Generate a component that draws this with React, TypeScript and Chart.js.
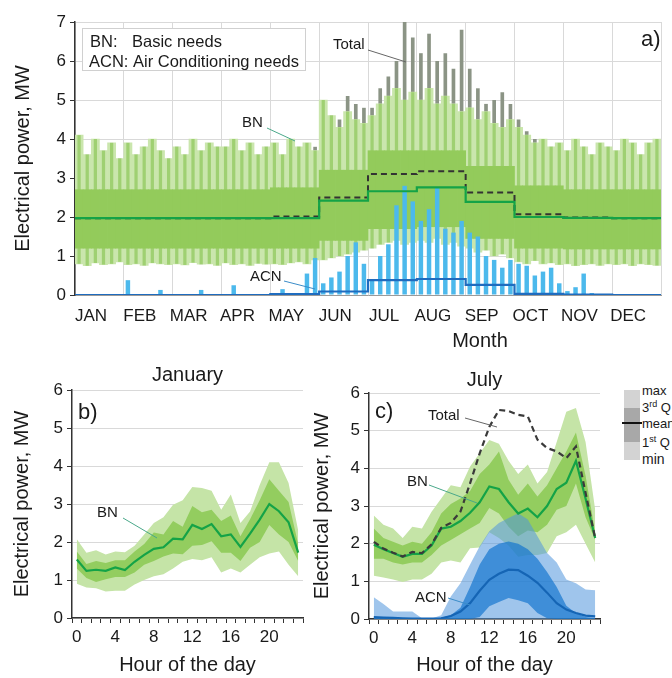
import React, { useEffect, useRef } from 'react';
import { Chart, registerables } from 'chart.js';

Chart.register(...registerables);

const FONT = "'Liberation Sans', Arial, Helvetica, sans-serif";
Chart.defaults.font.family = FONT;
Chart.defaults.color = '#222';

// ---------- Panel a) : yearly profile ----------
const MONTHS = ['JAN', 'FEB', 'MAR', 'APR', 'MAY', 'JUN', 'JUL', 'AUG', 'SEP', 'OCT', 'NOV', 'DEC'];

const BN_MONTHLY_MEAN = [1.97, 1.97, 1.97, 1.97, 1.97, 2.42, 2.66, 2.76, 2.39, 2.0, 1.98, 1.97];
const TOTAL_MONTHLY_MEAN = [1.97, 1.97, 1.97, 1.97, 2.01, 2.5, 3.1, 3.17, 2.63, 2.07, 1.99, 1.97];
const ACN_MONTHLY_MEAN = [0, 0, 0, 0, 0.02, 0.09, 0.38, 0.41, 0.26, 0.03, 0.01, 0];

// dense core of the hourly BN signal, per month
const BN_CORE_LOW = [1.2, 1.2, 1.2, 1.2, 1.2, 1.4, 1.7, 1.75, 1.45, 1.2, 1.18, 1.18];
const BN_CORE_HIGH = [2.7, 2.7, 2.7, 2.7, 2.75, 3.2, 3.7, 3.7, 3.3, 2.8, 2.7, 2.7];

// ~5-day period extremes (6 periods per month)
const BN_PERIOD_MAX = [
  4.1, 3.6, 4.0, 3.7, 3.9, 3.5,
  3.9, 3.6, 3.8, 4.0, 3.7, 3.5,
  3.8, 3.6, 4.0, 3.7, 3.9, 3.8,
  3.8, 4.0, 3.7, 3.9, 3.6, 3.8,
  3.9, 3.6, 4.0, 3.8, 3.9, 3.7,
  5.0, 4.6, 4.3, 4.7, 4.5, 4.4,
  4.6, 4.9, 5.1, 5.3, 5.0, 5.2,
  5.0, 5.3, 4.9, 5.1, 4.9, 4.7,
  4.8, 4.5, 4.7, 4.4, 4.3, 4.5,
  4.3, 4.1, 3.9, 4.0, 3.8, 3.9,
  3.7, 4.0, 3.8, 3.6, 3.9, 3.8,
  3.7, 4.0, 3.9, 3.6, 3.9, 4.0,
];
const BN_PERIOD_MIN = [
  0.8, 0.75, 0.82, 0.78, 0.8, 0.85,
  0.78, 0.8, 0.76, 0.82, 0.8, 0.78,
  0.8, 0.77, 0.83, 0.79, 0.8, 0.76,
  0.82, 0.78, 0.8, 0.76, 0.81, 0.79,
  0.8, 0.78, 0.82, 0.85, 0.8, 0.9,
  0.9, 0.95, 1.0, 1.05, 1.1, 1.15,
  1.2, 1.3, 1.35, 1.4, 1.3, 1.35,
  1.4, 1.35, 1.45, 1.3, 1.35, 1.25,
  1.2, 1.1, 1.15, 1.0, 1.05, 0.95,
  0.85, 0.8, 0.88, 0.8, 0.82, 0.78,
  0.8, 0.75, 0.78, 0.8, 0.76, 0.8,
  0.78, 0.8, 0.75, 0.8, 0.78, 0.76,
];
const TOTAL_PERIOD_MAX = [
  4.1, 3.6, 4.0, 3.7, 3.9, 3.5,
  3.9, 3.6, 3.8, 4.0, 3.7, 3.5,
  3.8, 3.6, 4.0, 3.7, 3.9, 3.8,
  3.8, 4.0, 3.7, 3.9, 3.6, 3.8,
  3.9, 3.6, 4.0, 3.8, 3.9, 3.8,
  5.0, 4.6, 4.5, 5.1, 4.9, 4.8,
  4.8, 5.3, 5.6, 6.0, 7.0, 6.6,
  6.2, 6.7, 6.0, 6.2, 5.8, 6.8,
  5.8, 5.3, 4.9, 5.0, 5.2, 4.9,
  4.5, 4.2, 4.0, 4.0, 3.8, 3.9,
  3.7, 4.0, 3.8, 3.6, 3.9, 3.8,
  3.7, 4.0, 3.9, 3.6, 3.9, 4.0,
];
const ACN_PERIOD_MAX = [
  0, 0, 0, 0, 0, 0,
  0.38, 0, 0, 0, 0.13, 0,
  0, 0, 0, 0.13, 0, 0,
  0, 0.25, 0, 0, 0, 0,
  0, 0.15, 0, 0, 0.55, 0.95,
  0.3, 0.45, 0.6, 1.0, 1.35, 0.8,
  0.4, 1.0, 1.3, 2.3, 2.8, 2.4,
  1.9, 2.2, 2.75, 1.7, 1.6, 1.9,
  1.6, 1.5, 1.0, 0.9, 0.7, 0.9,
  0.8, 0.75, 0.5, 0.6, 0.7, 0.3,
  0.1, 0.2, 0.55, 0.05, 0, 0,
  0, 0, 0, 0, 0, 0,
];

// ---------- Panels b) and c) : daily profiles ----------
const HOURS = ['0', '1', '2', '3', '4', '5', '6', '7', '8', '9', '10', '11', '12', '13', '14', '15', '16', '17', '18', '19', '20', '21', '22', '23'];

const JAN_BN_MEAN = [1.54, 1.24, 1.27, 1.24, 1.33, 1.26, 1.48, 1.66, 1.82, 1.86, 2.09, 2.07, 2.45, 2.34, 2.47, 2.15, 2.2, 1.87, 2.22, 2.59, 3.0, 2.81, 2.52, 1.72];
const JAN_BN_MAX = [2.07, 1.72, 1.78, 1.67, 1.75, 1.73, 1.9, 2.2, 2.5, 2.65, 2.98, 3.1, 3.45, 3.42, 3.35, 2.85, 3.25, 2.5, 2.8, 3.5, 4.1, 4.1, 3.55, 2.3];
const JAN_BN_MIN = [0.9, 0.8, 0.78, 0.7, 0.72, 0.72, 0.88, 1.0, 1.1, 1.15, 1.3, 1.48, 1.55, 1.52, 1.6, 1.2, 1.3, 1.2, 1.4, 1.6, 1.7, 1.75, 1.4, 1.1];
const JAN_BN_Q3 = [1.75, 1.42, 1.5, 1.45, 1.52, 1.52, 1.75, 1.95, 2.25, 2.2, 2.55, 2.4, 2.95, 2.78, 2.85, 2.55, 2.7, 2.15, 2.6, 3.1, 3.65, 3.35, 3.05, 1.95];
const JAN_BN_Q1 = [1.3, 1.05, 0.95, 1.02, 1.08, 1.08, 1.2, 1.4, 1.5, 1.62, 1.7, 1.68, 1.9, 1.92, 2.02, 1.72, 1.72, 1.5, 1.85, 2.0, 2.45, 2.2, 2.0, 1.5];

const JUL_BN_MEAN = [1.97, 1.85, 1.75, 1.65, 1.73, 1.73, 1.95, 2.4, 2.45, 2.6, 2.82, 3.1, 3.52, 3.45, 3.1, 2.8, 2.93, 2.7, 3.0, 3.45, 3.62, 4.2, 3.2, 2.15];
const JUL_BN_MAX = [2.75, 2.5, 2.4, 2.15, 2.45, 2.4, 2.85, 3.2, 3.55, 3.5, 4.05, 4.4, 4.75, 4.65, 4.2, 3.85, 4.1, 3.6, 3.9, 4.7, 5.5, 5.6, 4.7, 2.9];
const JUL_BN_MIN = [1.15, 1.1, 1.05, 0.98, 1.05, 1.05, 1.2, 1.5, 1.55, 1.5, 1.88, 1.9, 2.3, 2.15, 1.95, 1.65, 1.7, 1.7, 1.75, 2.2, 2.3, 2.5, 2.0, 1.5];
const JUL_BN_Q3 = [2.4, 2.15, 2.05, 1.95, 2.05, 2.0, 2.3, 2.8, 3.05, 3.2, 3.4, 3.85, 4.1, 4.45, 3.7, 3.3, 3.6, 3.25, 3.55, 4.0, 4.45, 4.95, 3.8, 2.3];
const JUL_BN_Q1 = [1.6, 1.6, 1.5, 1.45, 1.5, 1.5, 1.7, 1.95, 2.1, 2.25, 2.4, 2.55, 2.95, 2.8, 2.45, 2.2, 2.35, 2.3, 2.5, 2.9, 3.0, 3.6, 2.7, 2.1];
const JUL_TOTAL_MEAN = [2.05, 1.87, 1.76, 1.66, 1.78, 1.75, 1.98, 2.42, 2.55, 2.85, 3.6, 4.4, 5.1, 5.55, 5.52, 5.42, 5.38, 4.76, 4.54, 4.45, 4.27, 4.58, 3.35, 2.15];
const JUL_ACN_MEAN = [0.05, 0.04, 0.03, 0.02, 0.01, 0.01, 0.01, 0.02, 0.08, 0.2, 0.42, 0.75, 1.04, 1.2, 1.31, 1.3, 1.15, 0.96, 0.7, 0.42, 0.25, 0.16, 0.09, 0.07];
const JUL_ACN_MAX = [0.58, 0.4, 0.2, 0.2, 0.2, 0.02, 0.01, 0.1, 0.6, 0.95, 1.45, 1.93, 2.33, 2.55, 2.68, 2.81, 2.64, 2.2, 1.75, 1.5, 1.05, 0.95, 0.78, 0.76];
const JUL_ACN_MIN = [0, 0, 0, 0, 0, 0, 0, 0, 0, 0, 0, 0, 0, 0, 0, 0, 0, 0, 0, 0, 0, 0, 0, 0];
const JUL_ACN_Q3 = [0.05, 0.04, 0.03, 0.02, 0.01, 0.01, 0.01, 0.03, 0.1, 0.3, 0.85, 1.45, 1.85, 2.0, 2.06, 2.0, 1.85, 1.6, 1.25, 0.85, 0.35, 0.15, 0.05, 0.02];
const JUL_ACN_Q1 = [0, 0, 0, 0, 0, 0, 0, 0, 0, 0, 0, 0.05, 0.34, 0.45, 0.56, 0.5, 0.42, 0.16, 0.02, 0, 0, 0, 0, 0];

// ---------- helpers ----------
type Note = {
  text?: string;
  x?: number;
  y?: number;
  size?: number;
  align?: CanvasTextAlign;
  line?: [number, number, number, number];
  lineColor?: string;
  box?: [number, number, number, number];
};

function notesPlugin(id: string, notes: Note[]) {
  return {
    id,
    afterDraw(chart: any) {
      const ctx: CanvasRenderingContext2D = chart.ctx;
      ctx.save();
      for (const n of notes) {
        if (n.box) {
          ctx.fillStyle = '#ffffff';
          ctx.fillRect(n.box[0], n.box[1], n.box[2], n.box[3]);
          ctx.strokeStyle = '#d0d0d0';
          ctx.lineWidth = 1;
          ctx.strokeRect(n.box[0] + 0.5, n.box[1] + 0.5, n.box[2], n.box[3]);
        }
        if (n.line) {
          ctx.strokeStyle = n.lineColor || '#666';
          ctx.lineWidth = 1;
          ctx.beginPath();
          ctx.moveTo(n.line[0], n.line[1]);
          ctx.lineTo(n.line[2], n.line[3]);
          ctx.stroke();
        }
        if (n.text) {
          ctx.fillStyle = '#1a1a1a';
          ctx.font = `${n.size || 15}px ${FONT}`;
          ctx.textAlign = n.align || 'left';
          ctx.textBaseline = 'middle';
          ctx.fillText(n.text, n.x || 0, n.y || 0);
        }
      }
      ctx.restore();
    },
  };
}

function ChartCanvas(props: { left: number; top: number; width: number; height: number; build: () => any }) {
  const ref = useRef<HTMLCanvasElement>(null);
  useEffect(() => {
    const chart = new Chart(ref.current as HTMLCanvasElement, props.build());
    return () => chart.destroy();
  }, []);
  return (
    <canvas
      ref={ref}
      width={props.width}
      height={props.height}
      style={{ position: 'absolute', left: props.left, top: props.top, width: props.width, height: props.height }}
    />
  );
}

const periodX = (i: number) => (i + 0.5) / 6;
const monthOf = (i: number) => Math.floor(i / 6);
const stepPoints = (arr: number[]) => [...arr.map((v, m) => ({ x: m, y: v })), { x: 12, y: arr[arr.length - 1] }];

function buildTop() {
  const barBase = { type: 'bar', categoryPercentage: 1, grouped: false, borderWidth: 0 };
  return {
    type: 'bar',
    data: {
      datasets: [
        {
          type: 'line', label: 'BN mean', data: stepPoints(BN_MONTHLY_MEAN), stepped: true,
          borderColor: '#14a347', borderWidth: 2.2, pointRadius: 0, order: 0,
        },
        {
          type: 'line', label: 'Total mean', data: stepPoints(TOTAL_MONTHLY_MEAN), stepped: true,
          borderColor: '#333333', borderDash: [6, 4], borderWidth: 2, pointRadius: 0, order: 1,
        },
        {
          type: 'line', label: 'ACN mean', data: stepPoints(ACN_MONTHLY_MEAN), stepped: true,
          borderColor: '#1f6cbf', borderWidth: 2.2, pointRadius: 0, order: 1,
        },
        {
          ...barBase, label: 'ACN', order: 2, barPercentage: 0.55, backgroundColor: '#4cb9ec',
          data: ACN_PERIOD_MAX.map((v, i) => ({ x: periodX(i), y: [0, v] })),
        },
        {
          ...barBase, label: 'BN core', order: 3, barPercentage: 1, backgroundColor: '#93cb5b',
          data: BN_PERIOD_MAX.map((_, i) => ({ x: periodX(i), y: [BN_CORE_LOW[monthOf(i)], BN_CORE_HIGH[monthOf(i)]] })),
        },
        {
          ...barBase, label: 'BN', order: 4, barPercentage: 0.4, backgroundColor: '#9fd072',
          data: BN_PERIOD_MAX.map((v, i) => ({ x: periodX(i), y: [BN_PERIOD_MIN[i], v] })),
        },
        {
          ...barBase, label: 'BN range', order: 5, barPercentage: 1, backgroundColor: '#cae6ad',
          data: BN_PERIOD_MAX.map((v, i) => ({ x: periodX(i), y: [BN_PERIOD_MIN[i], v] })),
        },
        {
          ...barBase, label: 'Total', order: 6, barPercentage: 0.45, backgroundColor: '#8b9485',
          data: TOTAL_PERIOD_MAX.map((v, i) => ({ x: periodX(i), y: [BN_PERIOD_MIN[i], v] })),
        },
      ],
    },
    options: {
      responsive: false,
      animation: false,
      events: [],
      layout: { padding: { left: 0, right: 5, top: 22, bottom: 0 } },
      plugins: { legend: { display: false }, tooltip: { enabled: false }, title: { display: false } },
      scales: {
        x: {
          type: 'linear', min: 0, max: 12, offset: false,
          afterFit: (s: any) => { s.height = 55; },
          grid: { color: '#d9d9d9', drawTicks: false, offset: false },
          border: { display: true, color: '#9a9a9a' },
          ticks: {
            stepSize: 1, autoSkip: false, maxRotation: 0, padding: 11, labelOffset: 16,
            font: { size: 17 }, color: '#1a1a1a',
            callback: (v: any) => (MONTHS[v] !== undefined ? MONTHS[v] : ''),
          },
        },
        y: {
          min: 0, max: 7,
          afterFit: (s: any) => { s.width = 75; },
          grid: { color: '#d9d9d9', tickColor: '#333', tickLength: 5 },
          border: { display: true, color: '#333', width: 1.5 },
          ticks: { stepSize: 1, font: { size: 17 }, color: '#1a1a1a', padding: 4 },
          title: { display: true, text: 'Electrical power, MW', font: { size: 20 }, color: '#1a1a1a', padding: { top: 11.5, bottom: 0 } },
        },
      },
    },
    plugins: [
      notesPlugin('notesTop', [
        { box: [82, 28, 223, 42] },
        { text: 'BN:', x: 90, y: 42, size: 16.5 },
        { text: 'Basic needs', x: 132, y: 42, size: 16.5 },
        { text: 'ACN:', x: 89, y: 62, size: 16.5 },
        { text: 'Air Conditioning needs', x: 133, y: 62, size: 16.5 },
        { text: 'Total', x: 333, y: 45, size: 15, line: [368, 50, 406, 62], lineColor: '#666' },
        { text: 'BN', x: 242, y: 123, size: 15, line: [267, 128, 295, 141], lineColor: '#4aa88a' },
        { text: 'ACN', x: 250, y: 277, size: 15, line: [284, 281, 315, 289], lineColor: '#3a8cc8' },
        { text: 'a)', x: 641, y: 40, size: 22 },
        { text: 'Month', x: 480, y: 341, size: 20, align: 'center' },
      ]),
    ],
  };
}

const band = (data: number[], fillTo: number | false, color: string, order: number) => ({
  data, fill: fillTo === false ? false : fillTo, backgroundColor: color,
  borderColor: 'rgba(0,0,0,0)', borderWidth: 0, pointRadius: 0, order,
});
const line = (data: number[], color: string, order: number, dash?: number[]) => ({
  data, fill: false, borderColor: color, borderWidth: 2.2, borderDash: dash || [], pointRadius: 0, order,
});

function dailyOptions(title: string, titlePad: { top: number; bottom: number }, yAxisWidth: number, yTitlePad: number, xHeight: number, rightPad: number) {
  return {
    responsive: false,
    animation: false,
    events: [],
    layout: { padding: { left: 0, right: rightPad, top: 0, bottom: 0 } },
    plugins: {
      legend: { display: false },
      tooltip: { enabled: false },
      title: { display: true, text: title, fullSize: false, font: { size: 20, weight: 'normal' }, color: '#1a1a1a', padding: titlePad },
    },
    scales: {
      x: {
        type: 'category', offset: true,
        afterFit: (s: any) => { s.height = xHeight; },
        grid: { display: true, offset: true, drawOnChartArea: false, drawTicks: true, tickLength: 5, color: '#333' },
        border: { display: true, color: '#333', width: 1.5 },
        ticks: {
          autoSkip: false, maxRotation: 0, minRotation: 0, padding: 4, font: { size: 17 }, color: '#1a1a1a',
          callback: (_v: any, idx: number) => (idx % 4 === 0 ? HOURS[idx] : ''),
        },
        title: { display: true, text: 'Hour of the day', font: { size: 20 }, color: '#1a1a1a', padding: { top: 0, bottom: 1 } },
      },
      y: {
        min: 0, max: 6,
        afterFit: (s: any) => { s.width = yAxisWidth; },
        grid: { color: '#d9d9d9', tickColor: '#333', tickLength: 5 },
        border: { display: true, color: '#333', width: 1.5 },
        ticks: { stepSize: 1, font: { size: 17 }, color: '#1a1a1a', padding: 4 },
        title: { display: true, text: 'Electrical power, MW', font: { size: 20 }, color: '#1a1a1a', padding: { top: yTitlePad, bottom: 0 } },
      },
    },
  };
}

const GREEN_LIGHT = '#c5e4a7';
const GREEN_MID = '#93cd5f';
const GREEN_LINE = '#14a347';

function buildJan() {
  return {
    type: 'line',
    data: {
      labels: HOURS,
      datasets: [
        band(JAN_BN_MAX, 1, GREEN_LIGHT, 3),
        band(JAN_BN_MIN, false, GREEN_LIGHT, 3),
        band(JAN_BN_Q3, 3, GREEN_MID, 2),
        band(JAN_BN_Q1, false, GREEN_MID, 2),
        line(JAN_BN_MEAN, GREEN_LINE, 1),
      ],
    },
    options: dailyOptions('January', { top: 8, bottom: 3 }, 72, 10, 60, 9),
    plugins: [
      notesPlugin('notesJan', [
        { text: 'b)', x: 78, y: 58, size: 22 },
        { text: 'BN', x: 97, y: 158, size: 15, line: [123, 163, 157, 183], lineColor: '#4aa88a' },
      ]),
    ],
  };
}

function buildJul() {
  return {
    type: 'line',
    data: {
      labels: HOURS,
      datasets: [
        band(JUL_BN_MAX, 1, GREEN_LIGHT, 7),
        band(JUL_BN_MIN, false, GREEN_LIGHT, 7),
        band(JUL_BN_Q3, 3, GREEN_MID, 6),
        band(JUL_BN_Q1, false, GREEN_MID, 6),
        band(JUL_ACN_MAX, 5, 'rgba(80,150,220,0.55)', 5),
        band(JUL_ACN_MIN, false, 'rgba(80,150,220,0.55)', 5),
        band(JUL_ACN_Q3, 7, 'rgba(18,116,206,0.68)', 4),
        band(JUL_ACN_Q1, false, 'rgba(18,116,206,0.68)', 4),
        line(JUL_BN_MEAN, GREEN_LINE, 2),
        line(JUL_ACN_MEAN, '#1565b5', 2),
        line(JUL_TOTAL_MEAN, '#3a3a3a', 1, [6, 4]),
      ],
    },
    options: dailyOptions('July', { top: 13, bottom: 1 }, 64, 5, 59, 5),
    plugins: [
      notesPlugin('notesJul', [
        { text: 'c)', x: 70, y: 57, size: 22 },
        { text: 'Total', x: 123, y: 61, size: 15, line: [160, 63, 192, 72], lineColor: '#666' },
        { text: 'BN', x: 102, y: 127, size: 15, line: [124, 130, 172, 148], lineColor: '#4aa88a' },
        { text: 'ACN', x: 110, y: 243, size: 15, line: [143, 243, 165, 250], lineColor: '#3a8cc8' },
      ]),
    ],
  };
}

function StatLegend() {
  const lbl: React.CSSProperties = { position: 'absolute', left: 642, fontFamily: FONT, fontSize: 13, color: '#1a1a1a', lineHeight: '14px', whiteSpace: 'nowrap' };
  const sup: React.CSSProperties = { fontSize: 9, verticalAlign: 'super', lineHeight: 0 };
  return (
    <>
      <div style={{ position: 'absolute', left: 624, top: 390, width: 16, height: 18, background: '#d3d3d3' }} />
      <div style={{ position: 'absolute', left: 624, top: 408, width: 16, height: 34, background: '#a8a8a8' }} />
      <div style={{ position: 'absolute', left: 624, top: 442, width: 16, height: 18, background: '#d3d3d3' }} />
      <div style={{ position: 'absolute', left: 622, top: 422, width: 20, height: 2, background: '#111' }} />
      <div style={{ ...lbl, top: 384 }}>max</div>
      <div style={{ ...lbl, top: 401 }}>3<span style={sup}>rd</span> Q</div>
      <div style={{ ...lbl, top: 417 }}>mean</div>
      <div style={{ ...lbl, top: 436 }}>1<span style={sup}>st</span> Q</div>
      <div style={{ ...lbl, top: 452, fontSize: 14 }}>min</div>
    </>
  );
}

export default function App() {
  return (
    <div style={{ position: 'absolute', left: 0, top: 0, width: 672, height: 678, background: '#fff', overflow: 'hidden' }}>
      <ChartCanvas left={0} top={0} width={672} height={350} build={buildTop} />
      <ChartCanvas left={0} top={355} width={312} height={323} build={buildJan} />
      <ChartCanvas left={305} top={355} width={300} height={323} build={buildJul} />
      <StatLegend />
    </div>
  );
}
